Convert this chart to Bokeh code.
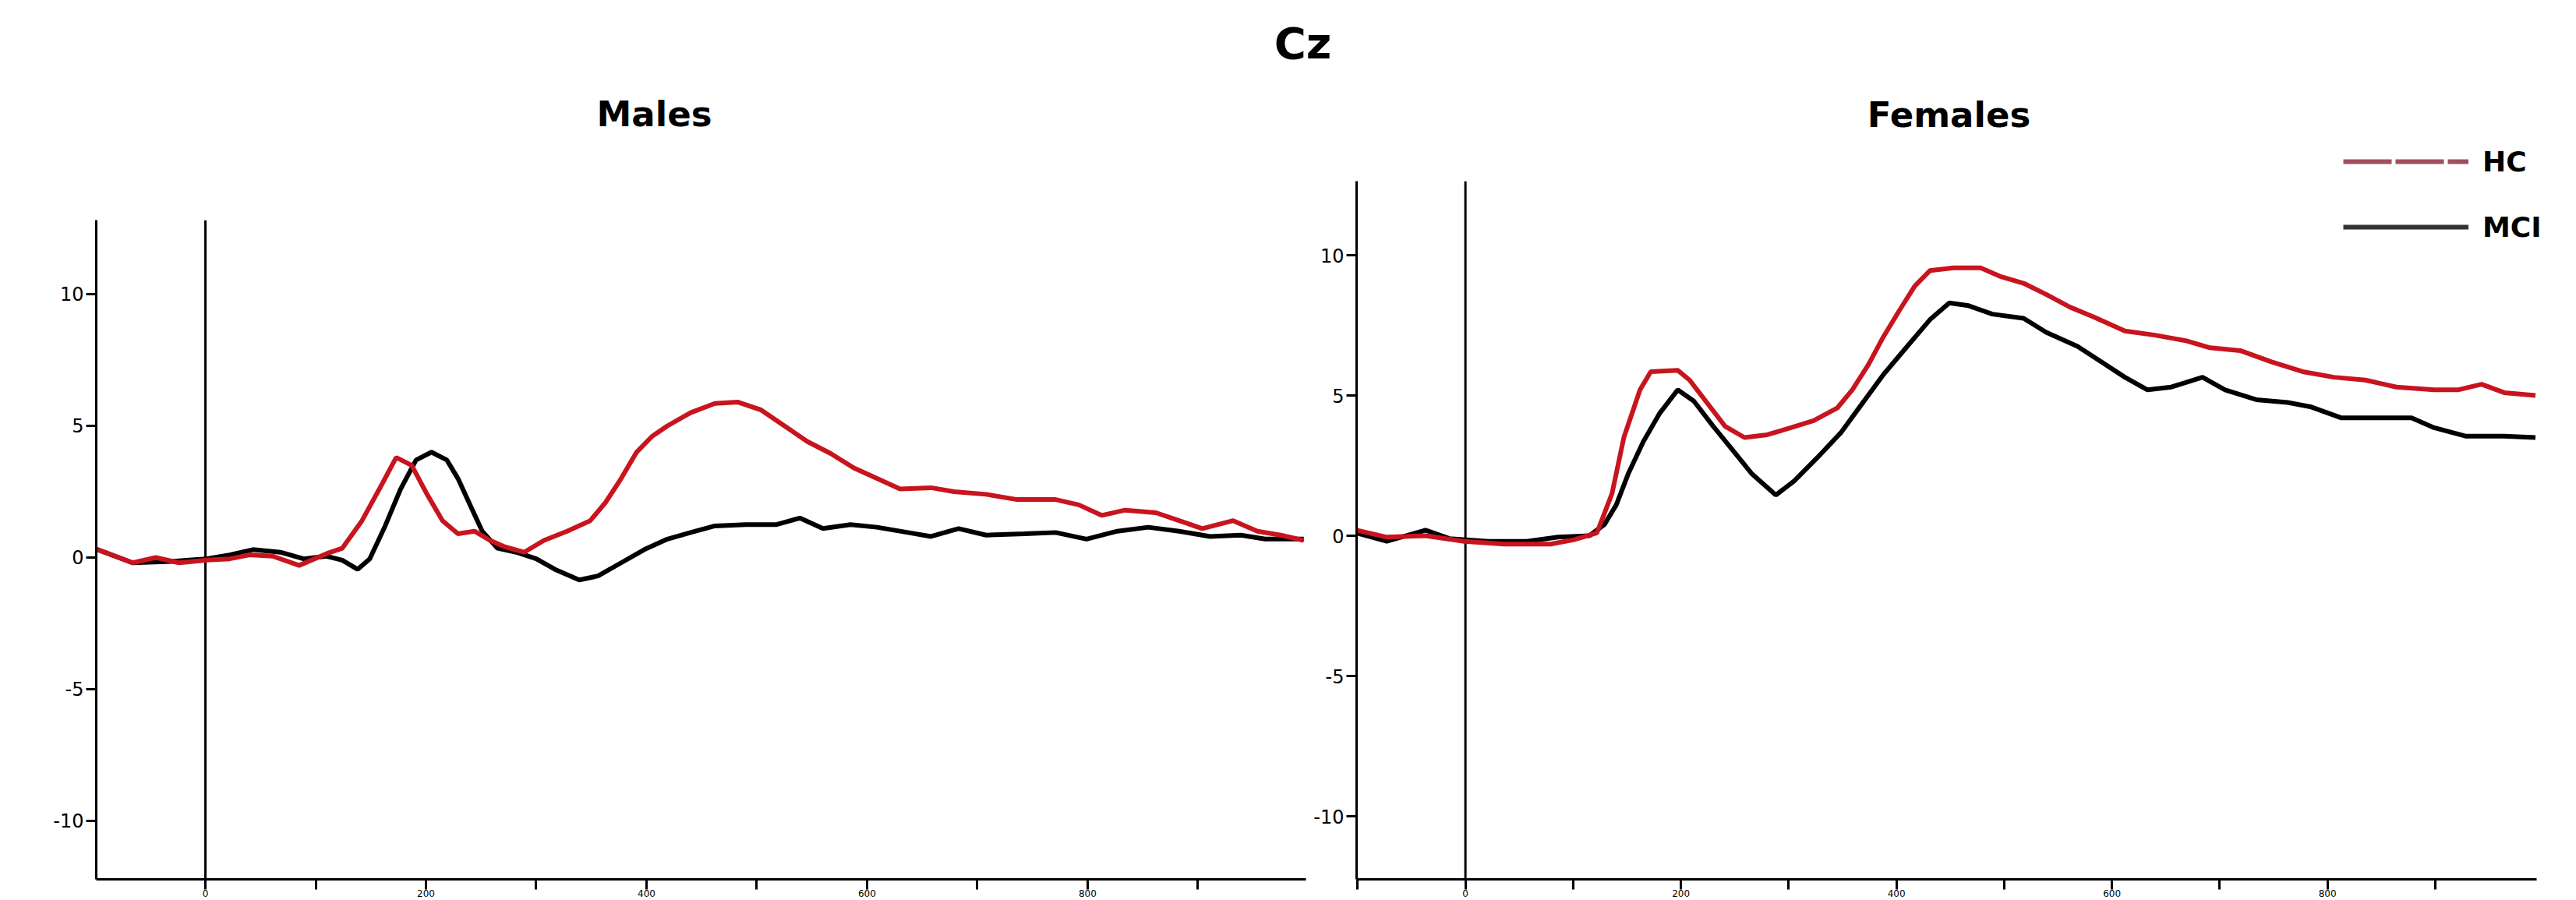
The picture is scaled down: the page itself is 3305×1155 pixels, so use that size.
from bokeh.plotting import figure
from bokeh.models import Range1d, FixedTicker, Label, Legend, LegendItem
from bokeh.layouts import column, row
from bokeh.embed import file_html
from bokeh.resources import INLINE

# ---------------- data ----------------
chart_title = "Cz"
panel_titles = ["Males", "Females"]
series_names = ["HC", "MCI"]

x_ticks_labeled = [0, 200, 400, 600, 800]
x_ticks_unlabeled = [-100, 100, 300, 500, 700, 900]
y_ticks = [-10, -5, 0, 5, 10]

males_hc_ms = [-101, -66, -45, -24, 1, 22, 40, 61, 85, 110, 124, 142, 159, 173, 187,
               201, 215, 229, 244, 258, 272, 289, 307, 328, 349, 363, 377, 391, 405, 419,
               440, 462, 483, 504, 525, 546, 567, 588, 609, 630, 658, 679, 708, 736, 771,
               792, 813, 834, 862, 883, 904, 932, 954, 975, 996]
males_hc_uv = [0.35, -0.2, 0.0, -0.2, -0.1, -0.05, 0.1, 0.05, -0.3, 0.15, 0.35, 1.4, 2.7, 3.8, 3.5,
               2.4, 1.4, 0.9, 1.0, 0.65, 0.4, 0.2, 0.65, 1.0, 1.4, 2.1, 3.0, 4.0, 4.6, 5.0,
               5.5, 5.85, 5.9, 5.6, 5.0, 4.4, 3.95, 3.4, 3.0, 2.6, 2.65, 2.5, 2.4, 2.2, 2.2,
               2.0, 1.6, 1.8, 1.7, 1.4, 1.1, 1.4, 1.0, 0.85, 0.65]

males_mci_ms = [-101, -66, -31, 1, 22, 43, 68, 89, 110, 124, 138, 149, 163, 177, 191,
                205, 219, 229, 240, 251, 265, 282, 300, 317, 339, 356, 377, 398, 419, 440,
                462, 490, 518, 539, 560, 585, 609, 637, 658, 683, 708, 743, 771, 799, 827,
                855, 883, 911, 939, 961, 996]
males_mci_uv = [0.35, -0.2, -0.15, -0.05, 0.1, 0.3, 0.2, -0.05, 0.05, -0.1, -0.45, -0.05, 1.2, 2.6, 3.7,
                4.0, 3.7, 3.0, 2.0, 1.0, 0.35, 0.2, -0.05, -0.45, -0.85, -0.7, -0.2, 0.3, 0.7, 0.95,
                1.2, 1.25, 1.25, 1.5, 1.1, 1.25, 1.15, 0.95, 0.8, 1.1, 0.85, 0.9, 0.95, 0.7, 1.0,
                1.15, 1.0, 0.8, 0.85, 0.7, 0.7]

females_hc_ms = [-101, -73, -37, -1, 36, 79, 100, 122, 136, 147, 162, 172, 197, 208, 223,
                 241, 259, 280, 302, 323, 345, 359, 374, 388, 403, 417, 431, 453, 478, 496,
                 518, 539, 561, 583, 612, 640, 669, 691, 719, 748, 777, 806, 835, 864, 899,
                 921, 943, 964, 993]
females_hc_uv = [0.2, -0.05, 0.0, -0.2, -0.3, -0.3, -0.15, 0.1, 1.5, 3.5, 5.2, 5.85, 5.9, 5.55, 4.8,
                 3.9, 3.5, 3.6, 3.85, 4.1, 4.55, 5.2, 6.1, 7.1, 8.05, 8.9, 9.45, 9.55, 9.55, 9.25,
                 9.0, 8.6, 8.15, 7.8, 7.3, 7.15, 6.95, 6.7, 6.6, 6.2, 5.85, 5.65, 5.55, 5.3, 5.2,
                 5.2, 5.4, 5.1, 5.0]

females_mci_ms = [-101, -73, -37, -15, 21, 57, 86, 115, 129, 140, 151, 165, 180, 197, 212,
                  230, 248, 266, 288, 305, 327, 349, 367, 388, 410, 431, 449, 467, 489, 518,
                  539, 568, 590, 612, 633, 655, 684, 705, 734, 763, 784, 813, 849, 878, 899,
                  928, 964, 993]
females_mci_uv = [0.1, -0.2, 0.2, -0.1, -0.2, -0.2, -0.05, 0.0, 0.4, 1.1, 2.2, 3.35, 4.35, 5.2, 4.8,
                  3.9, 3.05, 2.2, 1.45, 1.95, 2.8, 3.7, 4.65, 5.75, 6.75, 7.7, 8.3, 8.2, 7.9, 7.75,
                  7.25, 6.75, 6.2, 5.65, 5.2, 5.3, 5.65, 5.2, 4.85, 4.75, 4.6, 4.2, 4.2, 4.2, 3.85,
                  3.55, 3.55, 3.5]

# axis extents
males_x_axis = (-99, 998)
males_y_axis = (-12.22, 12.8)      # drawn part of the y axis
males_y_view_top = 14.29           # frame top (shared with the right panel)
females_x_axis = (-101, 994)
females_x_view_end = 1010          # frame extends a little past the drawn axis (room for the legend)
females_y_axis = (-12.25, 12.64)

# ---------------- styling ----------------
FONT = "DejaVu Sans"
RED = "#c8141e"
BLACK = "#000000"
LEG_RED = "#a0505f"
LEG_BLACK = "#333333"
NAN = float("nan")


def style_panel(p, x_axis, y_axis):
    p.outline_line_color = None
    p.grid.visible = False
    p.background_fill_color = "white"
    p.border_fill_color = "white"
    xa = p.xaxis[0]
    ya = p.yaxis[0]
    xa.ticker = FixedTicker(ticks=x_ticks_labeled, minor_ticks=x_ticks_unlabeled)
    ya.ticker = FixedTicker(ticks=y_ticks, minor_ticks=[])
    xa.bounds = x_axis
    ya.bounds = y_axis
    ya.major_label_overrides = {t: str(t) for t in y_ticks}
    xa.major_label_overrides = {t: str(t) for t in x_ticks_labeled}
    for ax in (xa, ya):
        ax.axis_line_width = 3
        ax.axis_line_color = BLACK
        ax.major_tick_line_width = 3
        ax.major_tick_in = 0
        ax.minor_tick_line_width = 3
        ax.minor_tick_in = 0
        ax.major_label_text_font = FONT
        ax.major_label_text_color = BLACK
    ya.major_label_text_font_size = "24px"
    xa.major_label_text_font_size = "12px"
    xa.major_tick_out = 13
    xa.minor_tick_out = 13
    xa.major_label_standoff = 0
    ya.major_tick_out = 13
    ya.minor_tick_out = 0
    ya.major_label_standoff = 3
    # stimulus-onset line at 0 ms, over the drawn extent of the y axis
    p.segment(x0=[0], y0=[y_axis[0]], x1=[0], y1=[y_axis[1]], line_color=BLACK, line_width=3)


def make_legend(label, renderer, loc):
    return Legend(items=[LegendItem(label=label, renderers=[renderer])],
                  location=loc, orientation="vertical",
                  glyph_width=161, glyph_height=44, label_height=44, label_standoff=18,
                  spacing=0, padding=0, margin=0,
                  border_line_alpha=0, background_fill_alpha=0,
                  label_text_font=FONT, label_text_font_style="bold",
                  label_text_font_size="36px", label_text_color=BLACK)


# ---------------- top strip with the titles (page y 0..232) ----------------
strip = figure(width=3305, height=232, x_range=Range1d(0, 3305), y_range=Range1d(232, 0),
               x_axis_location=None, y_axis_location=None, min_border=0,
               toolbar_location=None, output_backend="svg")
strip.outline_line_color = None
strip.grid.visible = False
strip.add_layout(Label(x=1671, y=55, text=chart_title, text_align="center",
                       text_baseline="middle", text_font=FONT, text_font_style="bold",
                       text_font_size="56px", text_color=BLACK))
strip.add_layout(Label(x=839, y=146, text=panel_titles[0], text_align="center",
                       text_baseline="middle", text_font=FONT, text_font_style="bold",
                       text_font_size="45px", text_color=BLACK))
strip.add_layout(Label(x=2500, y=147, text=panel_titles[1], text_align="center",
                       text_baseline="middle", text_font=FONT, text_font_style="bold",
                       text_font_size="45px", text_color=BLACK))
hc_key = strip.line([NAN], [NAN], line_color=LEG_RED, line_width=6, line_dash="62 5")
strip.add_layout(make_legend(series_names[0], hc_key, (3006, 3)), "center")

# ---------------- left panel: Males (page y 232..1155) ----------------
p1 = figure(width=1678, height=923, x_range=Range1d(*males_x_axis),
            y_range=Range1d(males_y_axis[0], males_y_view_top),
            min_border_left=123, min_border_right=3, min_border_top=0, min_border_bottom=27,
            toolbar_location=None, output_backend="svg")
style_panel(p1, males_x_axis, males_y_axis)
p1.line(males_mci_ms, males_mci_uv, line_color=BLACK, line_width=6)
p1.line(males_hc_ms, males_hc_uv, line_color=RED, line_width=6)

# ---------------- right panel: Females ----------------
p2 = figure(width=1627, height=923, x_range=Range1d(females_x_axis[0], females_x_view_end),
            y_range=Range1d(*females_y_axis),
            min_border_left=62, min_border_right=29, min_border_top=0, min_border_bottom=27,
            toolbar_location=None, output_backend="svg")
style_panel(p2, females_x_axis, females_y_axis)
p2.line(females_mci_ms, females_mci_uv, line_color=BLACK, line_width=6)
p2.line(females_hc_ms, females_hc_uv, line_color=RED, line_width=6)
mci_key = p2.line([NAN], [NAN], line_color=LEG_BLACK, line_width=6)
p2.add_layout(make_legend(series_names[1], mci_key, (1266, 815)), "center")

layout = column(strip, row(p1, p2))

with open("out.html", "w") as f:
    f.write(file_html(layout, INLINE))
